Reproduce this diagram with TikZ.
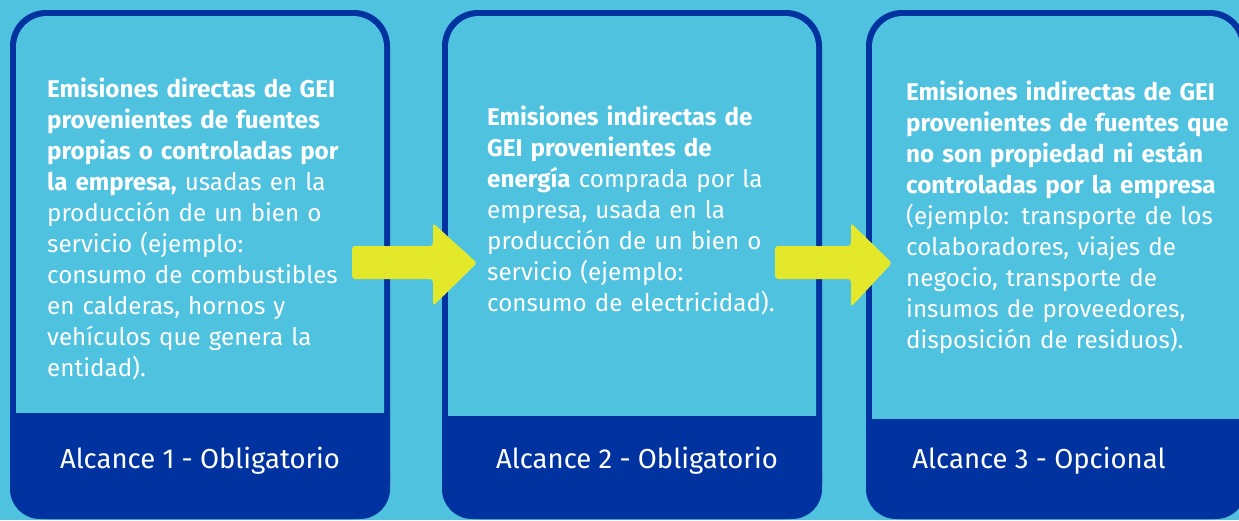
\documentclass[tikz,border=0pt]{standalone}
\usepackage{fontspec}
\setmainfont{Fira Sans}
\newfontfamily\labelfont{Fira Sans}
\definecolor{bgblue}{RGB}{79,194,223}
\definecolor{darkblue}{RGB}{0,51,160}
\definecolor{arrowyellow}{RGB}{227,232,42}
\tikzset{
  bodytext/.style={anchor=base west, inner sep=0pt, text=white, align=left, text width=400pt,
    font={\fontsize{24.2}{31}\selectfont}},
  labeltext/.style={anchor=base, inner sep=0pt, text=white, font={\labelfont\fontsize{27.5}{30}\selectfont}},
  blockarrow/.style={fill=arrowyellow, rounded corners=3pt},
}
\newcommand{\card}[3]{%
  \fill[darkblue, rounded corners=36pt] (#1,10) rectangle (#1+380,519);
  \fill[bgblue, rounded corners=31pt] (#1+6,16) rectangle (#1+374,470);
  \fill[darkblue] (#1,#2) rectangle (#1+380,480);
  \fill[darkblue, rounded corners=30pt] (#1,440) rectangle (#1+380,519);
}
\begin{document}
\begin{tikzpicture}[x=1pt,y=-1pt]
\useasboundingbox (0,0) rectangle (1239,520);
\fill[bgblue] (0,0) rectangle (1239,520);
\card{10}{413}{}
\card{442}{416}{}
\card{866}{419}{}
\node[bodytext] (t1) at (47,97) {\textbf{Emisiones directas de GEI}\\
\textbf{provenientes de fuentes}\\
\textbf{propias o controladas por}\\
\textbf{la empresa,} usadas en la\\
producción de un bien o\\
servicio (ejemplo:\\
consumo de combustibles\\
en calderas, hornos y\\
vehículos que genera la\\
entidad).};
\node[bodytext] (t2) at (487,125) {\textbf{Emisiones indirectas de}\\
\textbf{GEI provenientes de}\\
\textbf{energía} comprada por la\\
empresa, usada en la\\
producción de un bien o\\
servicio (ejemplo:\\
consumo de electricidad).};
\node[bodytext] (t3) at (906,100) {\textbf{Emisiones indirectas de GEI}\\
\textbf{provenientes de fuentes que}\\
\textbf{no son propiedad ni están}\\
\textbf{controladas por la empresa}\\
(ejemplo: transporte de los\\
colaboradores, viajes de\\
negocio, transporte de\\
insumos de proveedores,\\
disposición de residuos).};
\node[labeltext] (l1) at (200,468) {Alcance 1 - Obligatorio};
\node[labeltext] (l2) at (637,468) {Alcance 2 - Obligatorio};
\node[labeltext] (l3) at (1039,468) {Alcance 3 - Opcional};
\fill[blockarrow] (352,246) -- (433,246) -- (433,223) -- (477,263) -- (433,306) -- (433,279) -- (352,279) -- cycle;
\fill[blockarrow] (775,246) -- (851,246) -- (851,223) -- (892,263) -- (851,307) -- (851,279) -- (775,279) -- cycle;
\end{tikzpicture}
\end{document}
